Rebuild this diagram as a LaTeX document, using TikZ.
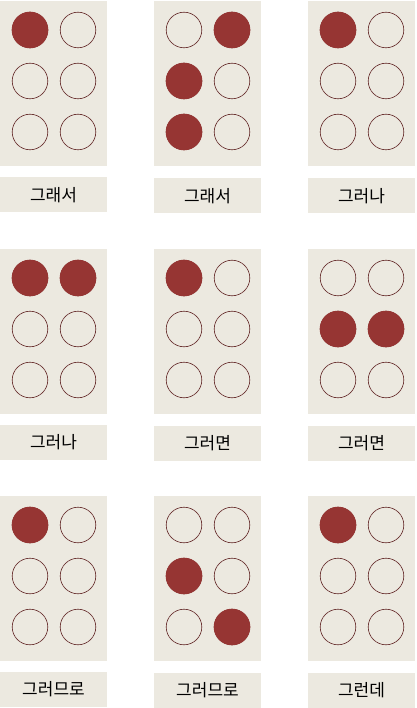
\documentclass[tikz,border=0pt]{standalone}
\usepackage{fontspec}
\newfontfamily\kofont{Noto Sans CJK KR}
\definecolor{panel}{RGB}{236,233,224}
\definecolor{dot}{RGB}{150,53,51}
\definecolor{rim}{RGB}{95,35,35}
\tikzset{
  word/.style={fill=panel, minimum width=107pt, minimum height=35pt, inner sep=0pt, font=\kofont\fontsize{17}{20}\selectfont},
  hole/.style={draw=rim, line width=0.6pt, fill=panel},
  filled/.style={fill=dot}
}

\begin{document}
\begin{tikzpicture}[x=1pt,y=-1pt]
  \useasboundingbox (0,0) rectangle (416,708);
  % cells with empty dots
  \foreach \x in {0,154,308}
    \foreach \y in {1,249,496} {
      \fill[panel] (\x,\y) rectangle +(107,165);
      \foreach \i in {30,78}
        \foreach \j in {29,80,131}
          \draw[hole] (\x+\i,\y+\j) circle (17.8pt);
    }
  % raised dots
  \fill[filled] (30,30) circle (18.3pt);
  \fill[filled] (232,30) circle (18.3pt);
  \fill[filled] (184,81) circle (18.3pt);
  \fill[filled] (184,132) circle (18.3pt);
  \fill[filled] (338,30) circle (18.3pt);
  \fill[filled] (30,278) circle (18.3pt);
  \fill[filled] (78,278) circle (18.3pt);
  \fill[filled] (184,278) circle (18.3pt);
  \fill[filled] (338,329) circle (18.3pt);
  \fill[filled] (386,329) circle (18.3pt);
  \fill[filled] (30,525) circle (18.3pt);
  \fill[filled] (184,576) circle (18.3pt);
  \fill[filled] (232,627) circle (18.3pt);
  \fill[filled] (338,525) circle (18.3pt);
  % words
  \node[word] (w11) at (53.5,195) {그래서};
  \node[word] (w12) at (207.5,196) {그래서};
  \node[word] (w13) at (361.5,196) {그러나};
  \node[word] (w21) at (53.5,442) {그러나};
  \node[word] (w22) at (207.5,443) {그러면};
  \node[word] (w23) at (361.5,443) {그러면};
  \node[word] (w31) at (53.5,689) {그러므로};
  \node[word] (w32) at (207.5,690) {그러므로};
  \node[word] (w33) at (361.5,690) {그런데};
\end{tikzpicture}
\end{document}
